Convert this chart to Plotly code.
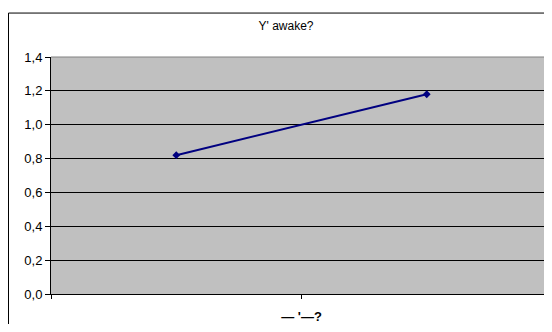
import plotly.graph_objects as go

categories = ["A", "B"]
values = [0.82, 1.18]
title_text = "Y' awake?"
x_title = "— '—?"

# page body has an 8px margin; size the figure so the page does not overflow
W, H = 544, 316
L, T, B, R = 43, 49, 27, 0
pw, ph = W - L - R, H - T - B

fig = go.Figure()
fig.add_trace(go.Scatter(
    x=categories, y=values, mode="lines+markers",
    line=dict(color="#000080", width=2),
    marker=dict(symbol="diamond", size=6, color="#000080"),
    showlegend=False,
))

fig.update_layout(
    width=W, height=H,
    margin=dict(l=L, r=R, t=T, b=B, pad=0),
    paper_bgcolor="white",
    plot_bgcolor="#C0C0C0",
    separators=",.",
    font=dict(family="Liberation Sans, Arial", size=12, color="black"),
    title=dict(text=title_text, x=278/W, xanchor="center", y=1-17.5/H, yanchor="middle",
               font=dict(size=12, color="black")),
    xaxis=dict(
        type="category", range=[-0.5, 1.5], showticklabels=False,
        tickson="boundaries", ticks="outside", ticklen=4, tickcolor="black",
        showgrid=False, showline=True, linecolor="black", linewidth=1,
        title=dict(text="<b>" + x_title + "</b>", font=dict(size=13), standoff=17),
        zeroline=False,
    ),
    yaxis=dict(
        range=[0, 1.4], dtick=0.2, tickformat=".1f",
        ticks="outside", ticklen=5, tickcolor="black",
        showgrid=True, gridcolor="black", gridwidth=1,
        showline=True, linecolor="black", linewidth=1, zeroline=False,
        tickfont=dict(size=13),
    ),
    shapes=[
        dict(type="rect", xref="paper", yref="paper",
             x0=(0.5 - L) / pw, x1=1.05, y0=-0.3, y1=(ph + T - 4.5) / ph,
             line=dict(color="black", width=1), fillcolor="rgba(0,0,0,0)", layer="below"),
        dict(type="line", xref="paper", yref="paper", x0=0, x1=1, y0=1, y1=1,
             line=dict(color="#808080", width=1)),
    ],
)

fig.write_html("out.html")
